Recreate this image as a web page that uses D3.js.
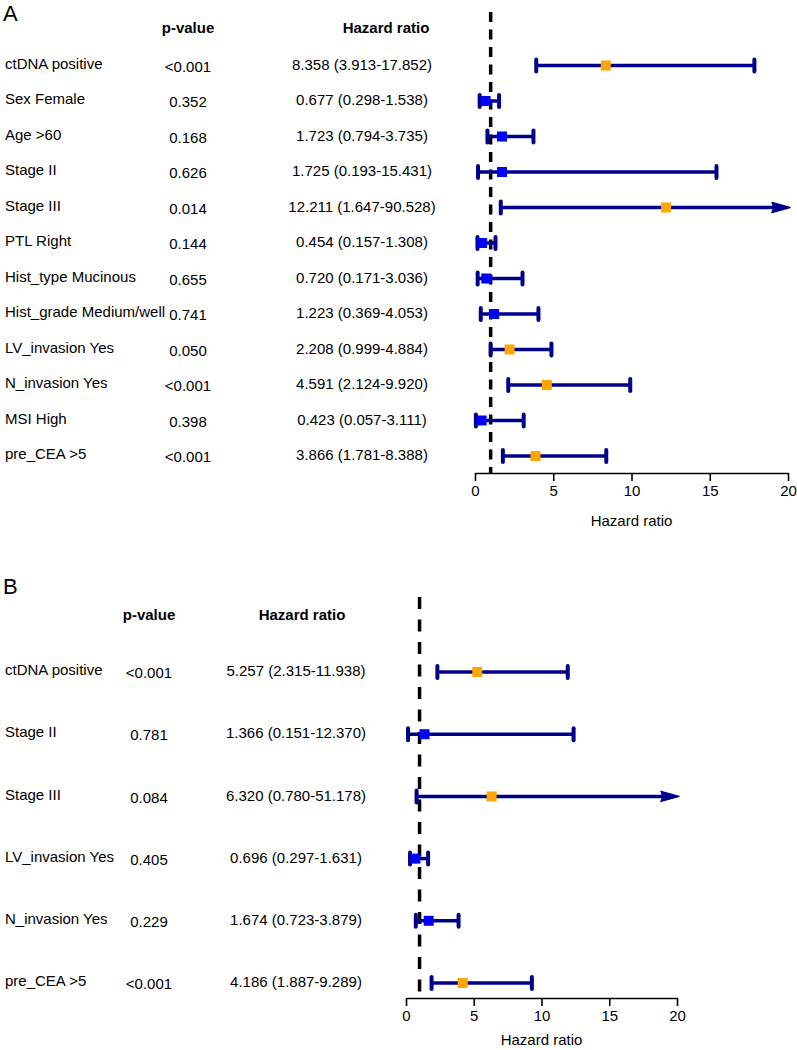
<!DOCTYPE html>
<html lang="en">
<head>
  <meta charset="UTF-8">
  <title>Forest plots</title>
  <script src="https://cdn.jsdelivr.net/npm/d3@7"></script>
  <style>
    body { margin: 0; background: #fff; font-family: "Liberation Sans", Arial, sans-serif; }
    svg text { font-family: "Liberation Sans", Arial, sans-serif; fill: #000; }
  </style>
</head>
<body>
  <svg id="chart" width="797" height="1050"></svg>

  <script>
    // ---- panel A data
    const varsA = ["ctDNA positive", "Sex Female", "Age >60", "Stage II", "Stage III", "PTL Right",
                   "Hist_type Mucinous", "Hist_grade Medium/well", "LV_invasion Yes", "N_invasion Yes",
                   "MSI High", "pre_CEA >5"];
    const pvalA = ["<0.001", "0.352", "0.168", "0.626", "0.014", "0.144",
                   "0.655", "0.741", "0.050", "<0.001", "0.398", "<0.001"];
    const hrA   = [8.358, 0.677, 1.723, 1.725, 12.211, 0.454, 0.720, 1.223, 2.208, 4.591, 0.423, 3.866];
    const lowA  = [3.913, 0.298, 0.794, 0.193, 1.647, 0.157, 0.171, 0.369, 0.999, 2.124, 0.057, 1.781];
    const highA = [17.852, 1.538, 3.735, 15.431, 90.528, 1.308, 3.036, 4.053, 4.884, 9.920, 3.111, 8.388];

    // ---- panel B data
    const varsB = ["ctDNA positive", "Stage II", "Stage III", "LV_invasion Yes", "N_invasion Yes", "pre_CEA >5"];
    const pvalB = ["<0.001", "0.781", "0.084", "0.405", "0.229", "<0.001"];
    const hrB   = [5.257, 1.366, 6.320, 0.696, 1.674, 4.186];
    const lowB  = [2.315, 0.151, 0.780, 0.297, 0.723, 1.887];
    const highB = [11.938, 12.370, 51.178, 1.631, 3.879, 9.289];

    const xTicks = [0, 5, 10, 15, 20];

    const svg = d3.select("#chart");
    const navy = "#00008b", orange = "#ffa500", blue = "#0000ff";

    const pNum = s => s.startsWith("<") ? +s.slice(1) / 2 : +s;
    const fmt = d3.format(".3f");

    function panel(o) {
      const rows = o.vars.map((v, i) => ({
        name: v, p: o.pval[i], hr: o.hr[i], lo: o.low[i], hi: o.high[i]
      }));

      const x = d3.scaleLinear().domain([0, 20]).range(o.xRange);
      const y = d3.scalePoint().domain(o.vars).range(o.yRange);
      const g = svg.append("g");

      g.append("text").attr("x", 3).attr("y", o.letterY)
        .style("font-size", "22px").text(o.letter);

      // column headers
      g.append("text").attr("x", o.pX).attr("y", o.headY)
        .attr("text-anchor", "middle").attr("dy", "0.35em")
        .style("font-size", "15px").style("font-weight", "bold").text("p-value");
      g.append("text").attr("x", o.hrHeadX).attr("y", o.headY)
        .attr("text-anchor", "middle").attr("dy", "0.35em")
        .style("font-size", "15px").style("font-weight", "bold").text("Hazard ratio");

      // text columns
      const tr = g.selectAll(".row").data(rows).join("g")
        .attr("transform", d => `translate(0,${y(d.name)})`);
      tr.append("text").attr("x", o.labX).attr("y", -2).attr("dy", "0.35em")
        .style("font-size", "15px").text(d => d.name);
      tr.append("text").attr("x", o.pX).attr("y", 1).attr("dy", "0.35em")
        .attr("text-anchor", "middle").style("font-size", "15px").text(d => d.p);
      tr.append("text").attr("x", o.hrX).attr("y", -1).attr("dy", "0.35em")
        .attr("text-anchor", "middle").style("font-size", "15px")
        .text(d => `${fmt(d.hr)} (${fmt(d.lo)}-${fmt(d.hi)})`);

      // reference line at HR = 1
      g.append("line")
        .attr("x1", x(1)).attr("x2", x(1))
        .attr("y1", o.refTop).attr("y2", o.axisY)
        .attr("stroke", "#000").attr("stroke-width", 3.5)
        .attr("stroke-dasharray", o.dash);

      // CI lines
      const ci = g.selectAll(".ci").data(rows).join("g")
        .attr("transform", d => `translate(0,${y(d.name)})`);
      ci.append("line")
        .attr("x1", d => x(d.lo))
        .attr("x2", d => d.hi > 20 ? x(20) - 10 : x(d.hi))
        .attr("stroke", navy).attr("stroke-width", 3.5);
      ci.append("line")
        .attr("x1", d => x(d.lo)).attr("x2", d => x(d.lo))
        .attr("y1", -6).attr("y2", 6)
        .attr("stroke", navy).attr("stroke-width", 4).attr("stroke-linecap", "round");
      ci.filter(d => d.hi <= 20).append("line")
        .attr("x1", d => x(d.hi)).attr("x2", d => x(d.hi))
        .attr("y1", -6).attr("y2", 6)
        .attr("stroke", navy).attr("stroke-width", 4).attr("stroke-linecap", "round");
      ci.filter(d => d.hi > 20).append("path")
        .attr("d", () => {
          const e = x(20) + 2;
          return `M${e},0 L${e - 18},-5 Q${e - 15},0 ${e - 18},5 Z`;
        })
        .attr("fill", navy).attr("stroke", navy).attr("stroke-width", 1.5)
        .attr("stroke-linejoin", "round");
      ci.append("rect")
        .attr("x", d => x(d.hr) - 5).attr("y", -5)
        .attr("width", 10).attr("height", 10)
        .attr("fill", d => pNum(d.p) < 0.1 ? orange : blue);

      // axis
      const ax = g.append("g").attr("transform", `translate(0,${o.axisY})`)
        .call(d3.axisBottom(x).tickValues(xTicks).tickSize(8).tickSizeOuter(0).tickPadding(4));
      ax.select(".domain").attr("stroke-width", 1.6);
      ax.selectAll(".tick line").attr("stroke-width", 1.6);
      ax.selectAll(".tick text").style("font-size", "15px")
        .style("font-family", "Liberation Sans, Arial, sans-serif");

      g.append("text").attr("x", (o.xRange[0] + o.xRange[1]) / 2).attr("y", o.titleY)
        .attr("dy", "0.35em")
        .attr("text-anchor", "middle").style("font-size", "15px").text("Hazard ratio");
    }

    panel({
      letter: "A", letterY: 21, vars: varsA, pval: pvalA, hr: hrA, low: lowA, high: highA,
      xRange: [475, 788], yRange: [65.5, 456], axisY: 473, refTop: 12, dash: "10,7.5",
      headY: 28, labX: 5, pX: 188, hrX: 362, hrHeadX: 386, titleY: 521
    });

    panel({
      letter: "B", letterY: 594, vars: varsB, pval: pvalB, hr: hrB, low: lowB, high: highB,
      xRange: [406, 677], yRange: [672, 983], axisY: 998, refTop: 597, dash: "12,10.5",
      headY: 615, labX: 5, pX: 149, hrX: 296, hrHeadX: 302, titleY: 1040
    });
  </script>
</body>
</html>
